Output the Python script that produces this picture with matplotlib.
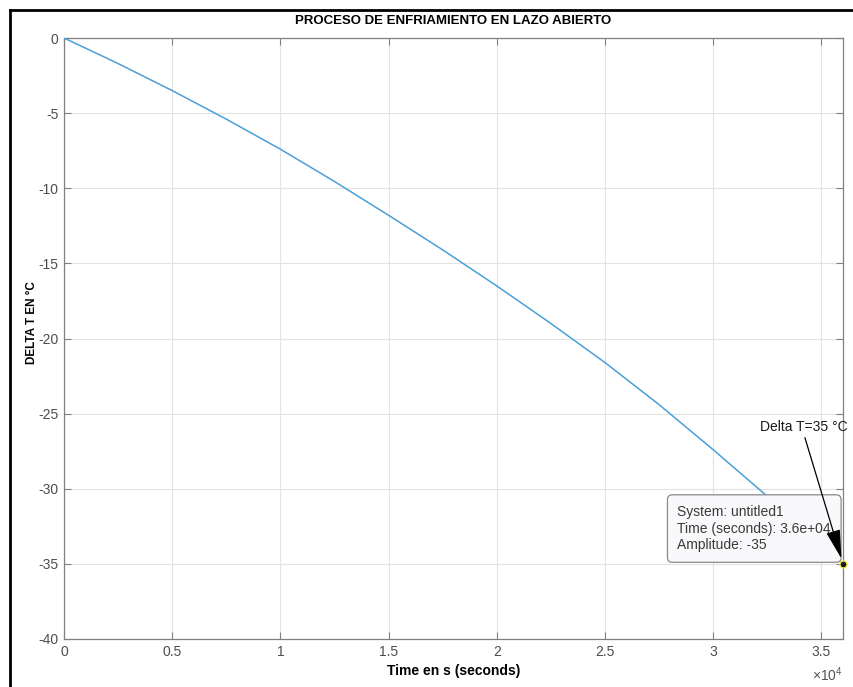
import matplotlib.pyplot as plt
from matplotlib.lines import Line2D
from matplotlib.ticker import FuncFormatter

plt.rcParams['font.family'] = ['Liberation Sans', 'DejaVu Sans']
plt.rcParams['axes.unicode_minus'] = False
plt.rcParams['mathtext.fontset'] = 'custom'
plt.rcParams['mathtext.rm'] = 'Liberation Sans'

# step response (time in s, delta T in °C)
time_s = [0, 2500, 5000, 7500, 10000, 12500, 15000, 17500, 20000,
          22500, 25000, 27500, 30000, 32500, 35000, 36000]
delta_t = [0, -1.7, -3.5, -5.4, -7.4, -9.55, -11.8, -14.1, -16.5,
           -19.0, -21.6, -24.4, -27.4, -30.5, -33.7, -35]

tip_time = 36000
tip_amp = -35
tip_lines = ["System: untitled1", "Time (seconds): 3.6e+04", "Amplitude: -35"]
note_text = "Delta T=35 °C"

fig = plt.figure(figsize=(8.54, 6.87), dpi=100)
ax = fig.add_axes([64 / 854, 1 - 639 / 687, 779 / 854, 601 / 687])

# outer frame of the original screenshot
fig.add_artist(Line2D([10 / 854, 10 / 854], [0, 1 - 10 / 687], color='black', lw=2))
fig.add_artist(Line2D([10 / 854, 1], [1 - 10 / 687, 1 - 10 / 687], color='black', lw=2))

ax.plot(time_s, delta_t, color='#4a9fd8', lw=1.1, zorder=3)

ax.set_xlim(0, 36000)
ax.set_ylim(-40, 0)
ax.set_xticks(range(0, 36000, 5000))
ax.set_yticks(range(-40, 1, 5))
ax.xaxis.set_major_formatter(FuncFormatter(lambda v, p: f"{v / 1e4:g}"))

ax.grid(True, color='#e3e3e3', lw=0.8)
ax.set_axisbelow(True)
ax.tick_params(direction='in', length=5, top=True, right=True,
               colors='#808080', labelcolor='#4d4d4d', labelsize=10, pad=4)
for s in ax.spines.values():
    s.set_color('#808080')
    s.set_linewidth(0.9)

ax.text(1.0, -0.06, r'$\times10^{4}$', transform=ax.transAxes, ha='right',
        va='center', fontsize=10, color='#555555')

ax.set_title("PROCESO DE ENFRIAMIENTO EN LAZO ABIERTO", fontsize=9.5,
             fontweight='bold', pad=10)
ax.set_xlabel("Time en s (seconds)", fontsize=10, fontweight='bold', labelpad=4)
ax.set_ylabel("DELTA T EN °C", fontsize=8.5, fontweight='bold')
ax.yaxis.set_label_coords(-0.034, 0.527)

# data tip
ax.text(28350, -32.65, "\n".join(tip_lines), ha='left', va='center',
        fontsize=10, color='#3a3a3a', linespacing=1.25, zorder=5,
        bbox=dict(boxstyle='round,pad=0.72,rounding_size=0.35', fc='#f9f9fc',
                  ec='#8a8a8a', lw=0.9))
ax.plot([tip_time], [tip_amp], 'o', ms=5, mfc='#1a1a1a', mec='#e6e64d',
        mew=1.0, zorder=6, clip_on=False)

ax.text(34200, -25.9, note_text, ha='center', va='center', fontsize=10,
        color='#1a1a1a', zorder=7)
ax.annotate('', xy=(tip_time, tip_amp), xytext=(34240, -26.6),
            annotation_clip=False, zorder=7,
            arrowprops=dict(arrowstyle='-|>,head_length=0.9,head_width=0.22',
                            mutation_scale=20, color='black', lw=0.9,
                            shrinkA=0, shrinkB=4))

fig.savefig('out.png', dpi=100)
